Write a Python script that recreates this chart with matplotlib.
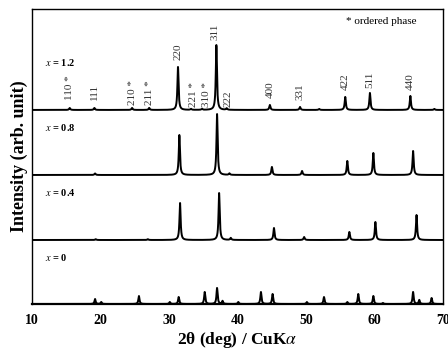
import numpy as np
import matplotlib
matplotlib.use('Agg')
import matplotlib.pyplot as plt

plt.rcParams['font.family'] = ['Liberation Serif', 'DejaVu Serif']
plt.rcParams['mathtext.fontset'] = 'stix'

# peak positions (2theta, deg) and heights (arb.)
pos_12 = [15.5, 19.1, 24.6, 27.1, 31.3, 33.2, 34.8, 36.9, 38.4, 44.7, 49.1, 51.9, 55.7, 59.3, 65.2, 68.7]
hgt_12 = [2, 2, 2, 2, 43, 1, 1, 65, 1.5, 5, 3, 1, 13, 17, 14, 1]

pos_08 = [19.2, 31.5, 37.0, 38.8, 45.0, 49.4, 56.0, 59.8, 65.6]
hgt_08 = [1.5, 40, 61, 1.5, 8, 4, 14, 22, 24]

pos_04 = [19.3, 26.9, 31.6, 37.3, 39.0, 45.3, 49.7, 56.3, 60.1, 66.1]
hgt_04 = [0.8, 0.8, 37, 47, 2, 12, 3, 8, 18, 25]

pos_00 = [19.2, 20.1, 25.6, 30.1, 31.4, 35.2, 37.0, 37.8, 40.1, 43.4, 45.1, 50.1,
          52.6, 56.0, 57.6, 59.8, 61.2, 65.6, 66.5, 68.3]
hgt_00 = [5, 2, 8, 2, 7, 12, 16, 3, 2, 12, 10, 2, 7, 2, 10, 8, 1, 12, 4, 6]

samples = ['$x$ = 1.2', '$x$ = 0.8', '$x$ = 0.4', '$x$ = 0']
offsets = [194, 129, 64, 0]

hkl = ['110 *', '111', '210 *', '211 *', '220', '221 *', '310 *', '311', '222',
       '400', '331', '422', '511', '440']
hkl_x = [15.5, 19.05, 24.6, 27.1, 31.3, 33.5, 35.4, 36.7, 38.6, 44.7, 49.1, 55.7, 59.3, 65.2]
hkl_y = [10, 10, 5, 5, 50, 3, 3, 70, 3, 12, 10, 20, 22, 20]

tt = np.linspace(10, 70, 6000)


def pattern(pos, hgt, w=0.1):
    y = np.zeros_like(tt)
    for p, h in zip(pos, hgt):
        y += h / (1 + ((tt - p) / w) ** 2)
    return y


fig = plt.figure(figsize=(4.48, 3.56), dpi=100)
ax = fig.add_axes([0.0714, 0.146, 0.918, 0.829])

data = [(pos_12, hgt_12), (pos_08, hgt_08), (pos_04, hgt_04), (pos_00, hgt_00)]
for (p, h), off in zip(data, offsets):
    ax.plot(tt, pattern(p, h) + off, color='black', lw=1.4)

for lab, off in zip(samples, offsets):
    ax.text(11.9, off + 47, lab, fontsize=7.5, fontweight='bold', va='center', ha='left')

for lab, x, y in zip(hkl, hkl_x, hkl_y):
    ax.text(x, offsets[0] + y, lab, rotation=90, fontsize=8, color='#333333',
            ha='center', va='bottom')

ax.text(61.0, 282, '* ordered phase', fontsize=8, ha='center', va='center')

ax.set_xlim(10, 70)
ax.set_ylim(0, 295)
ax.set_yticks([])
ax.set_xticks([10, 20, 30, 40, 50, 60, 70])
ax.tick_params(axis='x', length=0, pad=7, labelsize=10)
for t in ax.get_xticklabels():
    t.set_fontweight('bold')
for s in ax.spines.values():
    s.set_linewidth(1.0)
ax.spines['bottom'].set_linewidth(1.6)

ax.set_xlabel('2θ (deg) / CuK$\\alpha$', fontsize=12.5, fontweight='bold', labelpad=2)
ax.set_ylabel('Intensity (arb. unit)', fontsize=13, fontweight='bold', labelpad=3)

fig.savefig('out.png', dpi=100)
